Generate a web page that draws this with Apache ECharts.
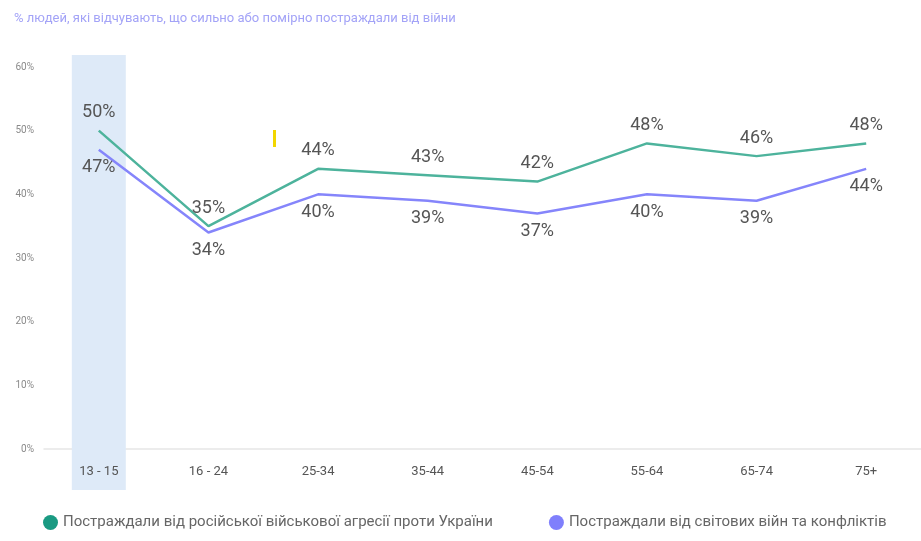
<!DOCTYPE html>
<html>
<head>
<meta charset="utf-8">
<script src="https://cdn.jsdelivr.net/npm/echarts@6/dist/echarts.min.js"></script>
<style>
  html, body { margin: 0; padding: 0; background: #fff; }
  #chart { width: 921px; height: 541px; }
</style>
</head>
<body>
<div id="chart"></div>
<script>
// вікові групи
const categories = ["13 - 15", "16 - 24", "25-34", "35-44", "45-54", "55-64", "65-74", "75+"];
const russianAggression = [50, 35, 44, 43, 42, 48, 46, 48];
const worldWars = [47, 34, 40, 39, 37, 40, 39, 44];
const highlight = [1, null, null, null, null, null, null, null]; // виділена група 13-15
const seriesNames = [
  "Постраждали від російської військової агресії проти України",
  "Постраждали від світових війн та конфліктів"
];

const font = "Roboto";

let myChart = echarts.init(document.getElementById("chart"));
myChart.setOption({
  animation: false,
  title: {
    text: "% людей, які відчувають, що сильно або помірно постраждали від війни",
    left: 9,
    top: 7,
    textStyle: { color: "#a3a3f7", fontSize: 13, fontWeight: "normal", fontFamily: font }
  },
  legend: {
    bottom: 6,
    left: 38,
    itemGap: 56,
    icon: "circle",
    itemWidth: 15,
    itemHeight: 15,
    selectedMode: false,
    textStyle: { color: "#666", fontSize: 15, fontFamily: font },
    data: seriesNames
  },
  grid: [
    { left: 44, right: -10, top: 67, bottom: 92 },
    { left: 44, right: -10, top: 55, bottom: 51 } // для підсвітки
  ],
  xAxis: [
    {
      type: "category",
      data: categories,
      gridIndex: 0,
      axisLine: { lineStyle: { color: "#e6e6e6", width: 1.5 } },
      axisTick: { show: false },
      axisLabel: { color: "#555", fontSize: 13, margin: 16, fontFamily: font }
    },
    { type: "category", data: categories, gridIndex: 1, show: false }
  ],
  yAxis: [
    {
      type: "value",
      gridIndex: 0,
      min: 0,
      max: 60,
      interval: 10,
      splitLine: { show: false },
      axisLabel: { formatter: "{value}%", color: "#8a8a8a", fontSize: 10, margin: 10, fontFamily: font }
    },
    { type: "value", gridIndex: 1, min: 0, max: 1, show: false }
  ],
  series: [
    {
      type: "bar",
      xAxisIndex: 1,
      yAxisIndex: 1,
      data: highlight,
      barWidth: 54,
      itemStyle: { color: "#deeaf8" },
      silent: true,
      z: 0
    },
    {
      name: seriesNames[0],
      type: "line",
      data: russianAggression,
      symbol: "circle",
      symbolSize: 0.1,
      color: "#1a9a82",
      lineStyle: { color: "#4db39c", width: 2.5 },
      label: { show: true, position: "top", distance: 9, formatter: "{c}%", color: "#555", fontSize: 18, fontFamily: font },
      z: 3
    },
    {
      name: seriesNames[1],
      type: "line",
      data: worldWars,
      symbol: "circle",
      symbolSize: 0.1,
      color: "#7f7ffc",
      lineStyle: { color: "#8585fb", width: 2.5 },
      label: { show: true, position: "bottom", distance: 9, formatter: "{c}%", color: "#555", fontSize: 18, fontFamily: font },
      z: 3
    }
  ],
  graphic: [
    { type: "rect", left: 273, top: 130, shape: { width: 3, height: 17 }, style: { fill: "#f2d600" } }
  ]
});
</script>
</body>
</html>
